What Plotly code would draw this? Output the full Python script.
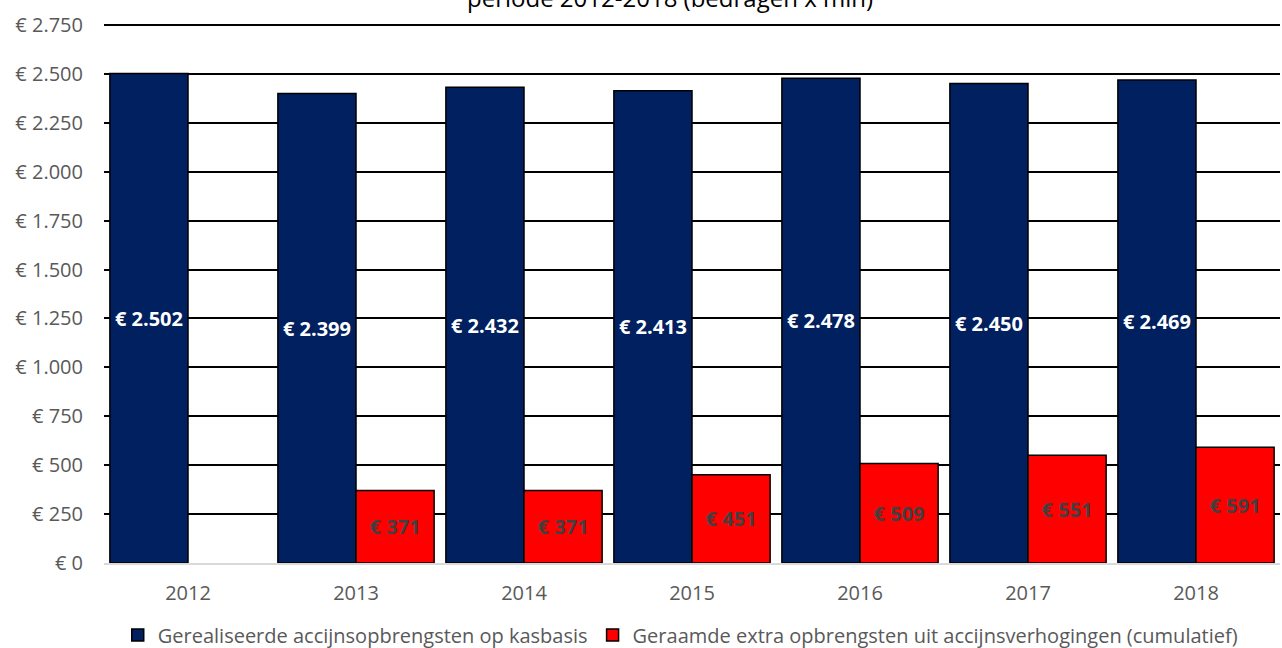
import plotly.graph_objects as go

years = ["2012", "2013", "2014", "2015", "2016", "2017", "2018"]
realised = [2502, 2399, 2432, 2413, 2478, 2450, 2469]
extra = [None, 371, 371, 451, 509, 551, 591]
tick_vals = [0, 250, 500, 750, 1000, 1250, 1500, 1750, 2000, 2250, 2500, 2750]
tick_text = ["€ 0", "€ 250", "€ 500", "€ 750", "€ 1.000", "€ 1.250", "€ 1.500",
             "€ 1.750", "€ 2.000", "€ 2.250", "€ 2.500", "€ 2.750"]
name_real = "Gerealiseerde accijnsopbrengsten op kasbasis"
name_extra = "Geraamde extra opbrengsten uit accijnsverhogingen (cumulatief)"
title_text = "periode 2012-2018 (bedragen x mln)"


def fmt(v):
    return "" if v is None else "€ " + f"{v:,}".replace(",", ".")


FONT = "Open Sans"

fig = go.Figure()
fig.add_trace(go.Bar(
    x=years, y=realised, name=name_real,
    marker=dict(color="#002060", line=dict(color="#000000", width=1.5)),
    text=[fmt(v) for v in realised], textposition="inside",
    insidetextanchor="middle", textangle=0,
    textfont=dict(color="white", size=20, family=FONT, weight="bold"),
))
fig.add_trace(go.Bar(
    x=years, y=extra, name=name_extra,
    marker=dict(color="#ff0000", line=dict(color="#000000", width=1.5)),
    text=[fmt(v) for v in extra], textposition="inside",
    insidetextanchor="middle", textangle=0,
    textfont=dict(color="#404040", size=20, family=FONT, weight="bold"),
))

fig.update_layout(
    width=1282, height=648,
    margin=dict(l=104, r=2, t=21, b=85, autoexpand=False),
    paper_bgcolor="white", plot_bgcolor="white",
    barmode="group", bargap=0.07, bargroupgap=0,
    font=dict(family=FONT, color="#595959", size=20),
    legend=dict(orientation="h", x=0.49, xanchor="center", y=-0.133,
                yanchor="middle", font=dict(size=20, color="#595959"),
                itemwidth=30, traceorder="normal"),
    showlegend=True,
)
fig.update_traces(constraintext="none", cliponaxis=False)
fig.update_yaxes(range=[0, 2770], tickvals=tick_vals, ticktext=tick_text,
                 showgrid=True, gridcolor="#000000", gridwidth=2,
                 zeroline=False, ticks="", ticklabelstandoff=20,
                 tickfont=dict(size=20, color="#595959"))
fig.update_xaxes(showline=True, linecolor="#d9d9d9", linewidth=2,
                 ticks="", ticklabelstandoff=11,
                 tickfont=dict(size=20, color="#595959"))

fig.add_annotation(text=title_text, xref="paper", yref="paper",
                   x=0.481, y=1, yshift=5, yanchor="bottom", showarrow=False,
                   font=dict(size=24, color="#000000", family=FONT))

fig.write_html("out.html", config={"displayModeBar": False},
               post_script="document.body.style.margin='0';")
